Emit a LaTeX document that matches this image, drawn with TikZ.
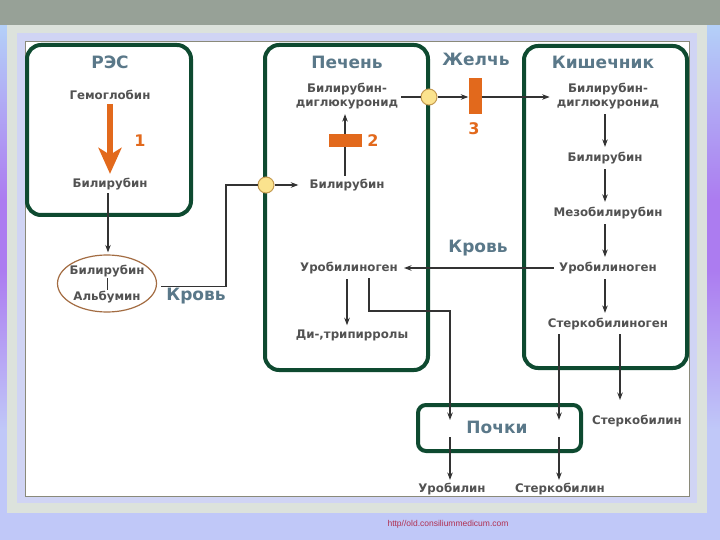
\documentclass[tikz,border=0pt]{standalone}
\usepackage{fontspec}
\setmainfont{DejaVu Sans}
\newfontfamily\urlfont{Liberation Sans}
\usetikzlibrary{arrows.meta,shapes.geometric}
\definecolor{boxgreen}{HTML}{0E4A30}
\definecolor{titleblue}{HTML}{5A7889}
\definecolor{textgray}{HTML}{525252}
\definecolor{linegray}{HTML}{333333}
\definecolor{orange1}{HTML}{E2691C}
\definecolor{ellbrown}{HTML}{A36C42}
\definecolor{juncfill}{HTML}{FBE38E}
\definecolor{juncborder}{HTML}{C49A50}
\definecolor{topband}{HTML}{97A197}
\definecolor{frameg}{HTML}{DCE2DC}
\definecolor{lilac}{HTML}{D0D4F4}
\definecolor{bgtop}{HTML}{B4D0F8}
\definecolor{bgmid}{HTML}{AC7CF0}
\definecolor{bgbot}{HTML}{C0C8F8}
\definecolor{panelline}{HTML}{8A8A7A}
\definecolor{urlred}{HTML}{B03050}
\begin{document}
\begin{tikzpicture}[x=1pt,y=-1pt,
  lbl/.style={font=\bfseries\fontsize{11.8}{14}\selectfont, text=textgray, inner sep=1pt, align=center},
  ttl/.style={font=\bfseries\fontsize{17}{18}\selectfont, text=titleblue, inner sep=1pt},
  num/.style={font=\bfseries\fontsize{16}{17}\selectfont, text=orange1, inner sep=1pt},
  ln/.style={draw=linegray, line width=1.1pt},
  arr/.style={ln, -{Stealth[length=7.5pt,width=5.5pt]}},
  grnbox/.style={draw=boxgreen, line width=4pt, rounded corners=14pt, inner sep=0pt},
  junc/.style={circle, draw=juncborder, fill=juncfill, line width=1pt, minimum size=16pt, inner sep=0pt},
  orect/.style={fill=orange1, inner sep=0pt}]
% background
\useasboundingbox (0,0) rectangle (720,540);
\fill[bgbot] (0,0) rectangle (720,540);
\shade[top color=bgtop, bottom color=bgmid] (0,25) rectangle (720,200);
\fill[bgmid] (0,200) rectangle (720,270);
\shade[top color=bgmid, bottom color=bgbot] (0,270) rectangle (720,430);
\fill[topband] (0,0) rectangle (720,25);
\fill[frameg] (7,25) rectangle (707,513);
\fill[lilac] (17,33) rectangle (697,503);
\draw[panelline, fill=white, line width=1pt] (25,42) rectangle (689,496);
% boxes
\node[grnbox, minimum width=164pt, minimum height=170pt] (res) at (109,130) {};
\node[grnbox, minimum width=163pt, minimum height=325pt] (liver) at (346.5,207.5) {};
\node[grnbox, minimum width=163pt, minimum height=322pt] (gut) at (605.5,207) {};
\node[grnbox, rounded corners=8pt, minimum width=163pt, minimum height=46pt] (kid) at (499.5,428) {};
% titles
\node[ttl] (tres) at (110,62) {РЭС};
\node[ttl] (tliver) at (347,62) {Печень};
\node[ttl] (tbile) at (476,59) {Желчь};
\node[ttl] (tgut) at (603,62) {Кишечник};
\node[ttl] (tblood1) at (196,296) {Кровь};
\node[ttl] (tblood2) at (478,248) {Кровь};
\node[ttl] (tkid) at (497,427) {Почки};
% RES
\node[lbl] (hem) at (110,95) {Гемоглобин};
\node[lbl] (rb) at (110,184) {Билирубин};
\draw[orange1, line width=6pt, -{Stealth[length=26pt,width=23pt,inset=7pt]}, shorten <=3pt, shorten >=3pt] (hem.south) -- (rb.north);
\node[num] (n1) at (140,141) {1};
% ellipse
\node[ellipse, draw=ellbrown, line width=1.2pt, minimum width=99pt, minimum height=57pt] (ell) at (107,283.5) {};
\node[lbl] (eb) at (107,271) {Билирубин};
\node[lbl] (ea) at (107,297) {Альбумин};
\draw[ln, line width=0.8pt] (eb.south) -- (ea.north);
\draw[arr, shorten <=2pt, shorten >=2pt] (rb.south -| 108,0) -- (ell.north -| 108,0);
% liver
\node[lbl] (pdg) at (347,96) {Билирубин-\\диглюкуронид};
\node[lbl] (pb) at (347,185) {Билирубин};
\draw[arr, shorten <=2pt, shorten >=4pt] (pb.north -| 345,0) -- (pdg.south -| 345,0);
\node[orect, minimum width=33pt, minimum height=13pt] (r2) at (345,141) {};
\node[num] (n2) at (373,141) {2};
\node[lbl] (pu) at (349,268) {Уробилиноген};
\node[lbl] (pd) at (352,335) {Ди-,трипирролы};
\draw[arr, shorten <=4pt, shorten >=3pt] (pu.south -| 347,0) -- (pd.north -| 347,0);
% blood path to liver
\coordinate (k1) at (226,185);
\node[junc] (c1) at (266,185) {};
\draw[ln] ([xshift=4pt,yshift=-3pt]ell.east) -| (k1) -- (c1);
\draw[arr] (c1) -- ([xshift=-10pt]pb.west);
% bile
\node[junc] (c2) at (429,97) {};
\node[orect, minimum width=13pt, minimum height=36pt] (r3) at (475,96) {};
\node[num] (n3) at (474,129) {3};
\draw[ln, shorten <=2pt] (pdg.east |- c2) -- (c2);
\draw[arr] (c2) -- (r3.west |- c2);
% gut
\node[lbl] (kdg) at (608,96) {Билирубин-\\диглюкуронид};
\draw[arr, shorten >=6pt] (r3.east |- c2) -- (kdg.west |- c2);
\node[lbl] (kb) at (605,158) {Билирубин};
\node[lbl] (km) at (608,213) {Мезобилирубин};
\node[lbl] (ku) at (608,268) {Уробилиноген};
\node[lbl] (ks) at (608,324) {Стеркобилиноген};
\draw[arr, shorten <=4pt, shorten >=4pt] (kdg.south -| 605,0) -- (kb.north -| 605,0);
\draw[arr, shorten <=4pt, shorten >=4pt] (kb.south -| 605,0) -- (km.north -| 605,0);
\draw[arr, shorten <=4pt, shorten >=4pt] (km.south -| 605,0) -- (ku.north -| 605,0);
\draw[arr, shorten <=4pt, shorten >=4pt] (ku.south -| 605,0) -- (ks.north -| 605,0);
\draw[arr, shorten <=4pt, shorten >=5pt] (ku.west) -- (pu.east);
% to kidneys
\coordinate (j1) at (450,311);
\coordinate (ka) at (450,420);
\coordinate (kb2) at (559,420);
\coordinate (sa) at (620,400);
\draw[arr] ([yshift=-3pt]pu.south -| 369,0) |- (j1) -- (ka);
\draw[arr] ([yshift=-3pt]ks.south -| 559,0) -- (kb2);
\draw[arr] ([yshift=-3pt]ks.south -| 620,0) -- (sa);
\node[lbl] (st1) at (637,421) {Стеркобилин};
\node[lbl] (ub) at (452,489) {Уробилин};
\node[lbl] (st2) at (560,489) {Стеркобилин};
\coordinate (kx1) at (450,437);
\coordinate (kx2) at (559,437);
\draw[arr, shorten >=2pt] (kx1) -- (ub.north -| kx1);
\draw[arr, shorten >=2pt] (kx2) -- (st2.north -| kx2);
% url
\node[font=\urlfont\fontsize{8.5}{10}\selectfont, text=urlred, inner sep=0pt] (url) at (448,524) {http//old.consiliummedicum.com};
\end{tikzpicture}
\end{document}
